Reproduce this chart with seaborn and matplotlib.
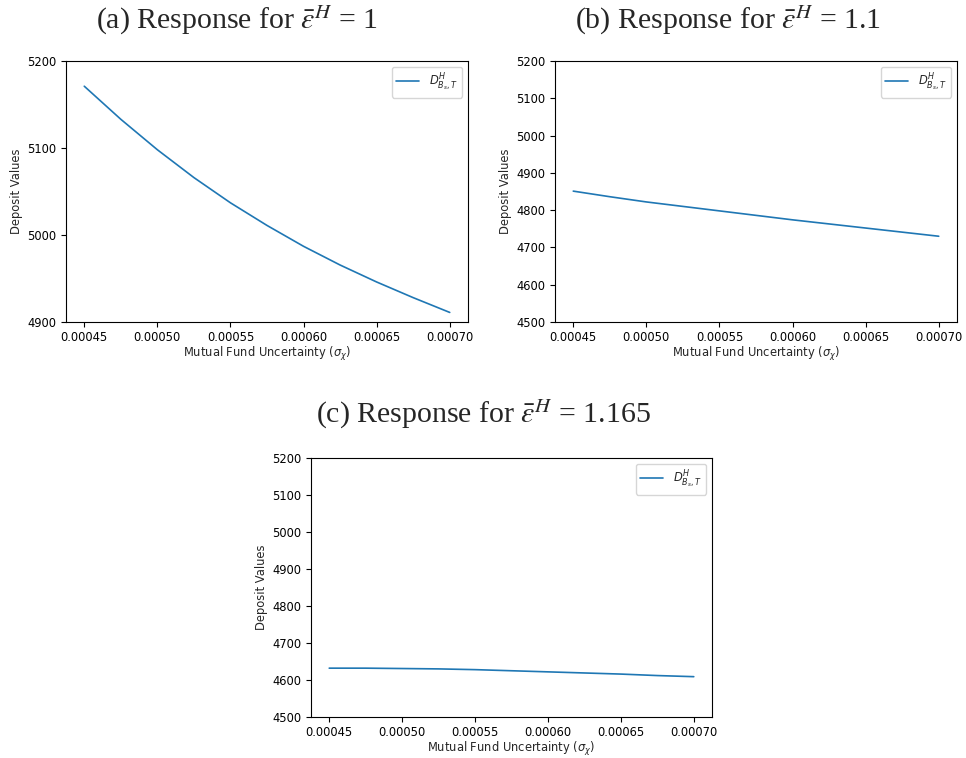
import matplotlib
matplotlib.use("Agg")
import numpy as np
import pandas as pd
import seaborn as sns
import matplotlib.pyplot as plt

# Mutual fund uncertainty grid (sigma_chi)
sigma = [0.00045, 0.000475, 0.0005, 0.000525, 0.00055, 0.000575,
         0.0006, 0.000625, 0.00065, 0.000675, 0.0007]

# deposit values
dep_a = [5171, 5133, 5098, 5066, 5037, 5011, 4987, 4965.5, 4946, 4928, 4911]
dep_b = [4851, 4836, 4822, 4810, 4798, 4786, 4774, 4763, 4752, 4741, 4730]
dep_c = [4632, 4632, 4631, 4630, 4628, 4625, 4622, 4619, 4616, 4612, 4609]

titles = [r"(a) Response for $\bar{\varepsilon}^H$ = 1",
          r"(b) Response for $\bar{\varepsilon}^H$ = 1.1",
          r"(c) Response for $\bar{\varepsilon}^H$ = 1.165"]
yticks_a = [4900, 5000, 5100, 5200]
yticks_bc = [4500, 4600, 4700, 4800, 4900, 5000, 5100, 5200]
xticks = [0.00045, 0.0005, 0.00055, 0.0006, 0.00065, 0.0007]
label = r"$D^H_{B_s,T}$"

sns.set_style("ticks")
plt.rcParams.update({
    "axes.edgecolor": "black",
    "xtick.color": "black",
    "ytick.color": "black",
    "xtick.major.size": 3.5,
    "ytick.major.size": 3.5,
    "font.family": ["DejaVu Sans"],
    "mathtext.fontset": "dejavusans",
})

W, H = 966, 758
fs = 8.3
fig = plt.figure(figsize=(W / 100, H / 100), dpi=100)


def ax_at(left, top, right, bottom):
    return fig.add_axes([left / W, 1 - bottom / H, (right - left) / W, (bottom - top) / H])


panels = [
    (ax_at(66, 61, 468, 322), dep_a, yticks_a),
    (ax_at(555, 61, 957, 322), dep_b, yticks_bc),
    (ax_at(311, 458, 712, 717), dep_c, yticks_bc),
]

for ax, vals, yt in panels:
    df = pd.DataFrame({"sigma": sigma, "deposit": vals})
    sns.lineplot(data=df, x="sigma", y="deposit", ax=ax, color="#1f77b4",
                 linewidth=1.2, label=label)
    ax.set_ylim(yt[0], yt[-1])
    ax.set_yticks(yt)
    ax.set_xticks(xticks)
    ax.set_xticklabels([f"{t:.5f}" for t in xticks])
    ax.set_xlim(0.0004375, 0.0007125)
    ax.tick_params(labelsize=fs, width=0.8)
    ax.tick_params(axis="x", pad=3)
    ax.set_xlabel(r"Mutual Fund Uncertainty ($\sigma_\chi$)", fontsize=fs, labelpad=0.5)
    ax.set_ylabel("Deposit Values", fontsize=fs, labelpad=3)
    for s in ax.spines.values():
        s.set_linewidth(0.8)
    ax.legend(loc="upper right", fontsize=fs)

serif = dict(family="Liberation Serif", fontsize=21.5, ha="center", va="center",
             math_fontfamily="stix")
fig.text(237 / W, 1 - 20 / H, titles[0], **serif)
fig.text(728 / W, 1 - 20 / H, titles[1], **serif)
fig.text(483 / W, 1 - 414 / H, titles[2], **serif)

fig.savefig("out.png", dpi=100)
